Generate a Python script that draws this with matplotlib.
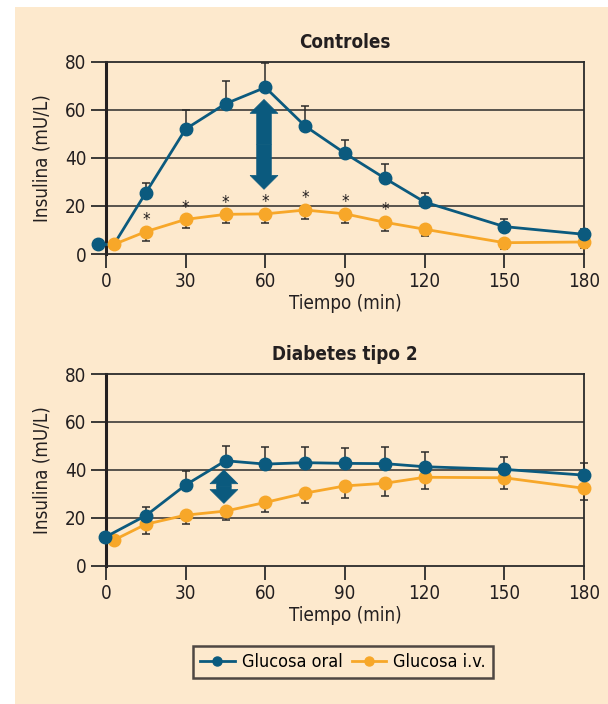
import matplotlib.pyplot as plt
from matplotlib.lines import Line2D
from matplotlib.patches import Rectangle

# tiempos (min); el primer punto de cada serie va un poco desplazado
t_oral_ctrl = [-3, 15, 30, 45, 60, 75, 90, 105, 120, 150, 180]
t_iv_ctrl = [3, 15, 30, 45, 60, 75, 90, 105, 120, 150, 180]
t_oral_dm = [-0.5, 15, 30, 45, 60, 75, 90, 105, 120, 150, 180]
t_iv_dm = [3, 15, 30, 45, 60, 75, 90, 105, 120, 150, 180]

# Controles
oral_ctrl = [4, 25.5, 52, 62.5, 69.3, 53.2, 41.9, 31.5, 21.6, 11.4, 8.2]
oral_ctrl_err = [0, 4, 8, 9.5, 10, 8.4, 5.7, 6, 3.8, 3, 2]
iv_ctrl = [4, 9.3, 14.4, 16.5, 16.7, 18.3, 16.7, 13.2, 10.3, 4.7, 5.0]
iv_ctrl_err = [0, 3.8, 3.7, 3.7, 3.7, 3.8, 3.7, 3.8, 2.8, 2.7, 2.6]
ast_ctrl = [15, 30, 45, 60, 75, 90, 105]  # puntos con diferencia significativa

# Diabetes tipo 2
oral_dm = [11.8, 20.9, 33.7, 43.8, 42.4, 43.0, 42.7, 42.6, 41.3, 40.2, 37.8]
oral_dm_err = [0, 3.7, 6, 6, 7.3, 6.4, 6.3, 6.9, 6.3, 5.2, 4.9]
iv_dm = [10.7, 17.3, 21.1, 22.8, 26.4, 30.3, 33.3, 34.4, 36.9, 36.7, 32.3]
iv_dm_err = [0, 4.1, 3.8, 3.7, 3.9, 4, 5.2, 5.2, 5, 4.8, 4.9]

# flechas (x, desde, hasta)
arrow_ctrl = (59.5, 26.9, 64.3)
arrow_dm = (44.4, 26.0, 40.0)

xticks = [0, 30, 60, 90, 120, 150, 180]
yticks = [0, 20, 40, 60, 80]

AZUL = '#0b5a7e'
NARANJA = '#f7a729'
FONDO = '#fde9cd'
OSCURO = '#2b2b2b'
TEXTO = '#231f20'

plt.rcParams['font.family'] = ['DejaVu Sans']
plt.rcParams['font.stretch'] = 'condensed'

fig = plt.figure(figsize=(6.08, 7.04), dpi=100)
fig.patches.append(Rectangle((15 / 608, 0), 1, 1 - 7 / 704, transform=fig.transFigure,
                             facecolor=FONDO, edgecolor='none', zorder=-10))


def panel(rect, titulo, t_o, oral, oral_e, t_i, iv, iv_e, flecha, asteriscos, unir=False):
    ax = fig.add_axes(rect)
    ax.set_facecolor('none')
    ax.set_xlim(0, 180)
    ax.set_ylim(0, 80)
    ax.set_xticks(xticks)
    ax.set_yticks(yticks)
    ax.tick_params(axis='x', direction='out', length=10, width=1.3, color=OSCURO,
                   labelsize=13.5, pad=3, labelcolor=TEXTO)
    ax.tick_params(axis='y', direction='out', length=11, width=1.3, color=OSCURO,
                   labelsize=13.5, pad=3, labelcolor=TEXTO)
    for g in [20, 40, 60]:
        ax.axhline(g, color=OSCURO, lw=1.1, zorder=1)
    for s in ['top', 'bottom', 'right']:
        ax.spines[s].set_linewidth(1.3)
        ax.spines[s].set_color(OSCURO)
    ax.spines['left'].set_linewidth(2.2)
    ax.spines['left'].set_color(TEXTO)

    # barras de error: oral hacia arriba, i.v. hacia abajo
    ax.errorbar(t_o, oral, yerr=[[0] * len(oral_e), oral_e], fmt='none',
                ecolor=OSCURO, elinewidth=1.1, capsize=3, capthick=1.1, zorder=3, clip_on=False)
    ax.errorbar(t_i, iv, yerr=[iv_e, [0] * len(iv_e)], fmt='none',
                ecolor=OSCURO, elinewidth=1.1, capsize=3, capthick=1.1, zorder=3, clip_on=False)
    ax.plot(t_i, iv, color=NARANJA, lw=2, marker='o', ms=9, zorder=4, clip_on=False)
    if unir:
        # en el original la curva oral sale del punto basal de la i.v.
        xs = [t_o[0]] + t_i
        ys = [oral[0]] + oral
        ax.plot(xs[1:], ys[1:], color=AZUL, lw=2, zorder=3.5, clip_on=False)
        ax.plot(xs[:2], ys[:2], color=AZUL, lw=2, zorder=3.5, clip_on=False)
        ax.plot(t_o, oral, color=AZUL, lw=0, marker='o', ms=9, zorder=5, clip_on=False)
    else:
        ax.plot(t_o, oral, color=AZUL, lw=2, marker='o', ms=9, zorder=5, clip_on=False)

    x, y0, y1 = flecha
    mid = (y0 + y1) / 2
    for fin in (y1, y0):
        ax.arrow(x, mid, 0, fin - mid, width=5.5, head_width=10.5, head_length=5.8,
                 length_includes_head=True, color=AZUL, lw=0.5, zorder=6)

    for t in asteriscos:
        y = iv[t_i.index(t)]
        ax.annotate('*', (t, y), xytext=(0, 2), textcoords='offset points',
                    ha='center', va='bottom', fontsize=12, color=TEXTO)

    ax.set_title(titulo, fontsize=13.5, fontweight='bold', pad=10, color=TEXTO)
    ax.set_ylabel('Insulina (mU/L)', fontsize=13.5, color=TEXTO)
    ax.yaxis.set_label_coords(-0.115, 0.5)
    ax.set_xlabel('Tiempo (min)', fontsize=13.5, color=TEXTO)
    ax.xaxis.set_label_coords(0.5, -0.21)
    return ax


panel([106 / 608, 1 - 254 / 704, 478 / 608, 192.3 / 704], 'Controles',
      t_oral_ctrl, oral_ctrl, oral_ctrl_err, t_iv_ctrl, iv_ctrl, iv_ctrl_err,
      arrow_ctrl, ast_ctrl, unir=True)
panel([106 / 608, 1 - 565.7 / 704, 478 / 608, 191.7 / 704], 'Diabetes tipo 2',
      t_oral_dm, oral_dm, oral_dm_err, t_iv_dm, iv_dm, iv_dm_err,
      arrow_dm, [])

handles = [Line2D([], [], color=AZUL, lw=2, marker='o', ms=6.5),
           Line2D([], [], color=NARANJA, lw=2, marker='o', ms=6.5)]
leg = fig.legend(handles, ['Glucosa oral', 'Glucosa i.v.'], loc='center',
                 bbox_to_anchor=(343 / 608, 1 - 662 / 704), ncol=2, fontsize=13,
                 frameon=True, fancybox=False, facecolor=FONDO, edgecolor=TEXTO,
                 handlelength=1.9, handletextpad=0.4, columnspacing=0.5,
                 borderpad=0.4)
leg.get_frame().set_linewidth(1.8)

fig.savefig('out.png', dpi=100)
